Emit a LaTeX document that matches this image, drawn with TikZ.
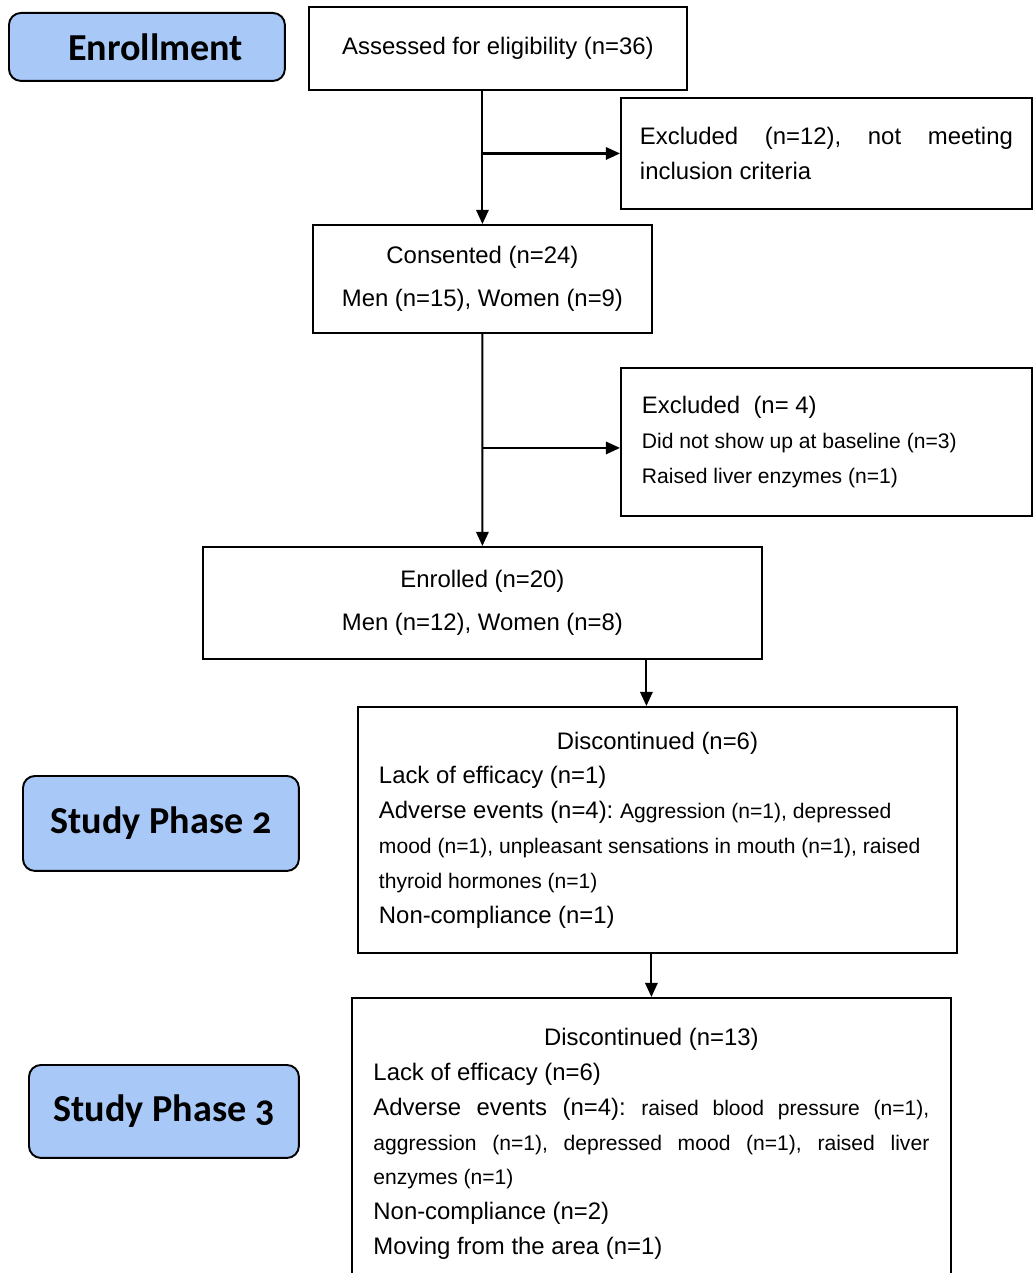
\documentclass[tikz,border=0pt]{standalone}
\usepackage{fontspec}
\setmainfont{Liberation Sans}
\newfontfamily\phasefont[Numbers=OldStyle]{Carlito}
\usepackage{xcolor}
\definecolor{phaseblue}{HTML}{A8C8F8}
\usetikzlibrary{arrows.meta}
\newcommand\bigfs{\fontsize{13.6pt}{19.8pt}\selectfont}
\newcommand\smallfs{\fontsize{12pt}{19.8pt}\selectfont}
\newcommand\phasefs{\phasefont\bfseries\fontsize{21.7pt}{26pt}\selectfont}
\frenchspacing

\begin{document}
\begin{tikzpicture}[x=0.02cm, y=-0.02cm,
    flowbox/.style={draw, line width=1.1pt, anchor=north west, inner sep=0pt, font=\bigfs,
      execute at begin node={\spaceskip=0pt\xspaceskip=0pt\relax}},
    phase/.style={draw, line width=1.1pt, rounded corners=0.24cm, fill=phaseblue, anchor=north west, font=\phasefs},
    arr/.style={-{Triangle[length=8pt,width=7pt]}, line width=1.2pt}
  ]
  \useasboundingbox (0,0) rectangle (1033,1273);

  % phase labels
  \node[phase, minimum width=5.52cm, minimum height=1.36cm] (enrlabel) at (8,12) {\hspace{0.35cm}Enrollment};
  \node[phase, minimum width=5.52cm, minimum height=1.9cm] (ph2label) at (22,775) {Study Phase 2};
  \node[phase, minimum width=5.4cm, minimum height=1.86cm] (ph3label) at (28,1064) {Study Phase 3};

  % flow boxes
  \node[flowbox, minimum width=7.56cm, minimum height=1.66cm] (assess) at (308,6) {Assessed for eligibility (n=36)};
  \node[flowbox, minimum width=8.22cm, minimum height=2.22cm, text width=7.46cm, align=left] (excl1) at (620,97)
    {\makebox[\linewidth][s]{Excluded (n=12), not meeting}\\inclusion criteria};
  \node[flowbox, minimum width=6.78cm, minimum height=2.16cm, align=center] (cons) at (312,224)
    {Consented (n=24)\\[4.6pt]Men (n=15), Women (n=9)};
  \node[flowbox, minimum width=8.22cm, minimum height=2.96cm, text width=7.38cm, align=left] (excl2) at (620,367)
    {Excluded~~(n=~4)\\{\smallfs Did not show up at baseline (n=3)}\\{\smallfs Raised liver enzymes (n=1)}};
  \node[flowbox, minimum width=11.18cm, minimum height=2.24cm, align=center] (enr) at (202,546)
    {Enrolled (n=20)\\[4.6pt]Men (n=12), Women (n=8)};
  \node[flowbox, minimum width=11.98cm, minimum height=4.92cm, text width=11.14cm, align=left] (disc1) at (357,706)
    {\makebox[\linewidth]{Discontinued (n=6)}\\
     Lack of efficacy (n=1)\\
     Adverse events (n=4): {\smallfs Aggression (n=1), depressed}\\
     {\smallfs mood (n=1), unpleasant sensations in mouth (n=1), raised}\\
     {\smallfs thyroid hormones (n=1)}\\
     Non-compliance (n=1)};
  \node[flowbox, minimum width=11.98cm, minimum height=5.84cm, text width=11.12cm, align=left] (disc2) at (351,997)
    {\makebox[\linewidth]{Discontinued (n=13)}\\
     Lack of efficacy (n=6)\\
     \makebox[\linewidth][s]{Adverse events (n=4): {\smallfs raised blood pressure (n=1),}}\\
     \makebox[\linewidth][s]{\smallfs aggression (n=1), depressed mood (n=1), raised liver}\\
     {\smallfs enzymes (n=1)}\\
     Non-compliance (n=2)\\
     Moving from the area (n=1)};

  % connectors
  \draw[arr] (assess.south -| cons.north) -- (cons.north);
  \draw[arr] (excl1.west -| cons.north) -- (excl1.west);
  \draw[arr] (cons.south) -- (enr.north);
  \draw[arr] ([yshift=-0.12cm]excl2.west -| enr.north) -- ([yshift=-0.12cm]excl2.west);
  \draw[arr] ([xshift=-0.22cm]disc1.north |- enr.south) -- ([xshift=-0.22cm]disc1.north);
  \draw[arr] (disc1.south -| disc2.north) -- (disc2.north);
\end{tikzpicture}
\end{document}
